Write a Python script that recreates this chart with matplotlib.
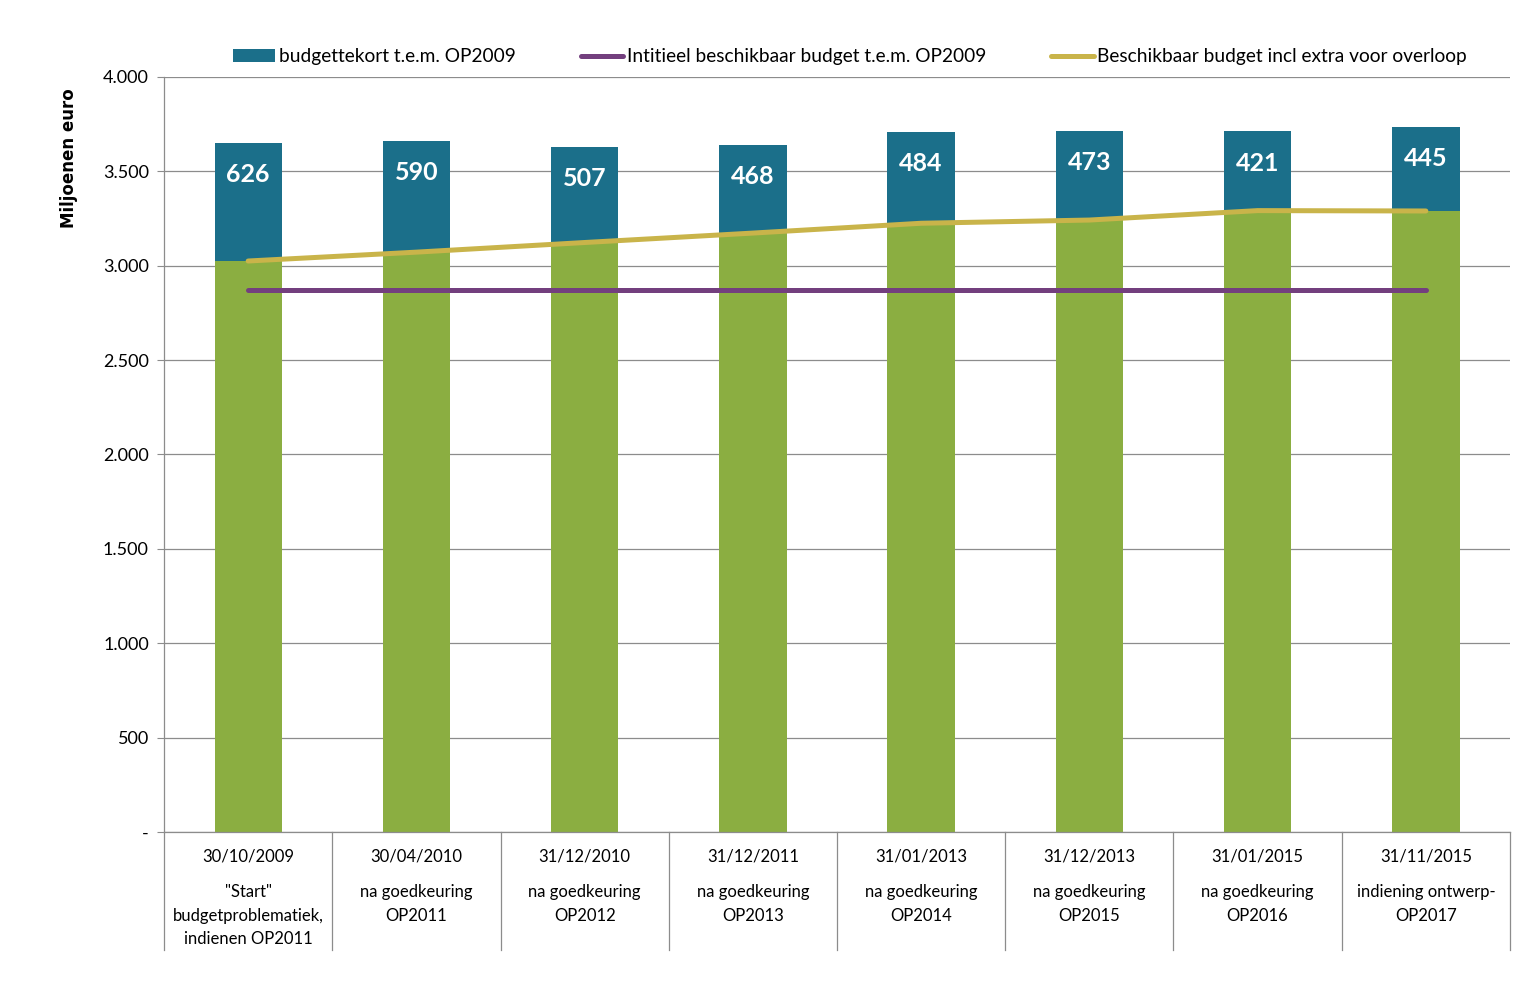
import numpy as np
import matplotlib
matplotlib.use("Agg")
import matplotlib.pyplot as plt
from matplotlib.ticker import FuncFormatter

plt.rcParams['font.family'] = ['Lato', 'DejaVu Sans']

# data
dates = ["30/10/2009", "30/04/2010", "31/12/2010", "31/12/2011",
         "31/01/2013", "31/12/2013", "31/01/2015", "31/11/2015"]
descriptions = ['"Start"\nbudgetproblematiek,\nindienen OP2011',
                "na goedkeuring\nOP2011", "na goedkeuring\nOP2012",
                "na goedkeuring\nOP2013", "na goedkeuring\nOP2014",
                "na goedkeuring\nOP2015", "na goedkeuring\nOP2016",
                "indiening ontwerp-\nOP2017"]
beschikbaar_extra = [3025, 3072, 3123, 3173, 3225, 3242, 3292, 3290]
tekort = [626, 590, 507, 468, 484, 473, 421, 445]
initieel = [2870] * 8

blue = "#1B6F8A"
green = "#8BAE41"
purple = "#733F7E"
gold = "#C9B44A"
grid_c = "#8C8C8C"

x = np.arange(len(dates))

fig, ax = plt.subplots(figsize=(15.26, 9.97), dpi=100)
fig.subplots_adjust(left=0.1075, right=0.9895, top=0.9228, bottom=0.1655)

ax.bar(x, beschikbaar_extra, width=0.4, color=green, zorder=2)
ax.bar(x, tekort, width=0.4, bottom=beschikbaar_extra, color=blue,
       zorder=2, label="budgettekort t.e.m. OP2009")
ax.plot(x, initieel, color=purple, lw=3.6, solid_capstyle='round', zorder=3,
        label="Intitieel beschikbaar budget t.e.m. OP2009")
ax.plot(x, beschikbaar_extra, color=gold, lw=3.6, solid_capstyle='round', zorder=3,
        label="Beschikbaar budget incl extra voor overloop")

# value labels near top of blue segment
for xi, b, t in zip(x, beschikbaar_extra, tekort):
    ax.annotate(f"{t}", (xi, b + t), xytext=(0, -23), textcoords="offset points",
                ha='center', va='center', color='white', fontsize=18,
                fontweight='bold', zorder=4)

ax.set_xlim(-0.5, len(dates) - 0.5)
ax.set_ylim(0, 4000)
ax.set_yticks(np.arange(0, 4001, 500))
ax.yaxis.set_major_formatter(FuncFormatter(
    lambda v, p: "-" if v == 0 else f"{int(v):,}".replace(",", ".")))
ax.yaxis.grid(True, color=grid_c, lw=0.9, zorder=0)
ax.set_axisbelow(True)
ax.tick_params(axis='y', labelsize=13, length=5, color=grid_c, pad=6)
ax.tick_params(axis='x', bottom=False, labelbottom=False)
for s in ['top', 'right']:
    ax.spines[s].set_visible(False)
for s in ['left', 'bottom']:
    ax.spines[s].set_color(grid_c)
    ax.spines[s].set_linewidth(0.9)

ax.set_ylabel("Miljoenen euro", fontsize=12, fontweight='bold',
              family='DejaVu Sans')
ax.yaxis.set_label_coords(-0.064, 0.893)

# category labels and separators under the axis
trans = ax.get_xaxis_transform()
for xi, d, desc in zip(x, dates, descriptions):
    ax.text(xi, -0.0318, d, transform=trans, ha='center', va='center', fontsize=12)
    ax.text(xi, -0.0695, desc, transform=trans, ha='center', va='top',
            fontsize=12, linespacing=1.55)
for xb in np.arange(-0.5, len(dates), 1.0):
    ax.plot([xb, xb], [0, -0.156], transform=trans, color=grid_c, lw=0.9,
            clip_on=False)

handles, labels = ax.get_legend_handles_labels()
order = [2, 0, 1]
fig.legend([handles[i] for i in order], [labels[i] for i in order],
           loc='center', bbox_to_anchor=(0.557, 0.943), ncol=3, frameon=False,
           fontsize=13.8, handlelength=2.2, handletextpad=0.2, columnspacing=3.4)

fig.savefig("out.png", dpi=100)
